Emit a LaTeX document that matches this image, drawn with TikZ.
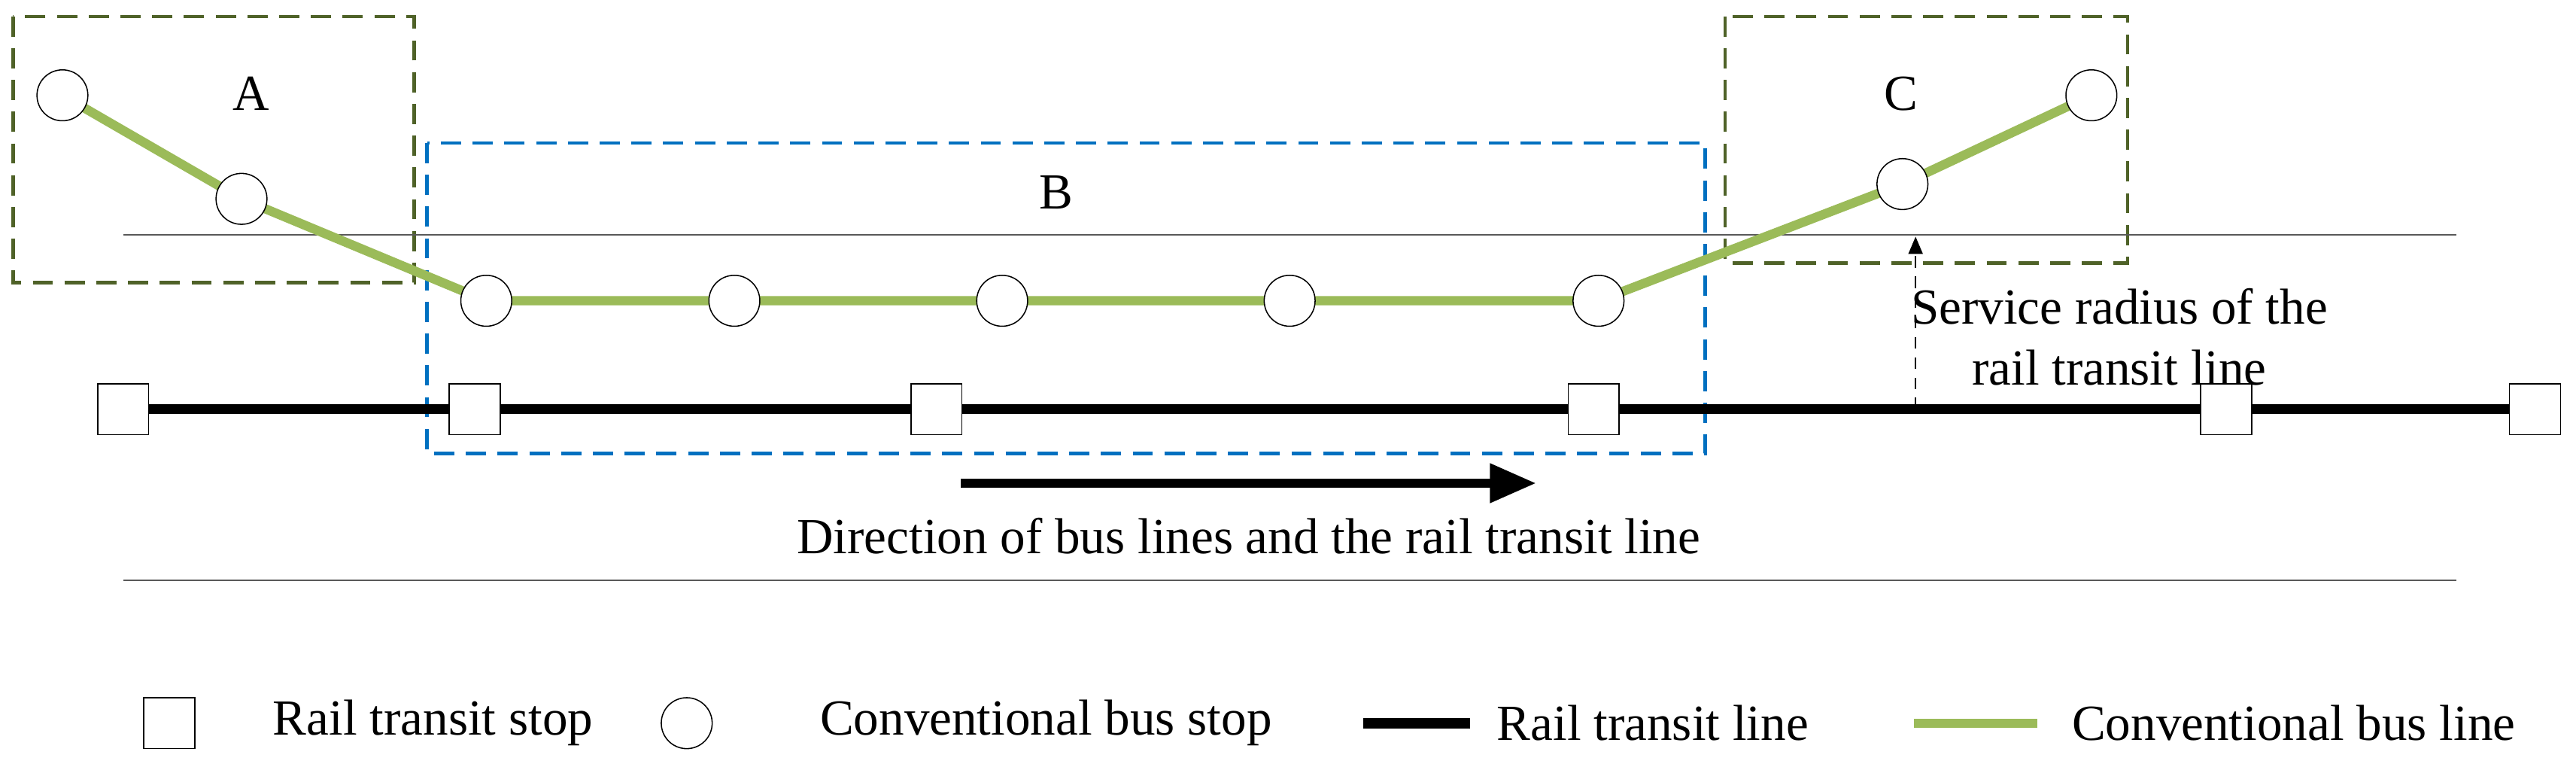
\documentclass[tikz,border=0pt]{standalone}
\usepackage{fontspec}
\setmainfont{Liberation Serif}
\usetikzlibrary{arrows.meta}
\definecolor{busgreen}{HTML}{9BBB59}
\definecolor{boxolive}{HTML}{4F6228}
\definecolor{boxblue}{HTML}{0070C0}
\begin{document}
\begin{tikzpicture}[x=0.02cm,y=-0.02cm,
 bs/.style={circle,draw,fill=white,minimum size=0.62cm,inner sep=0pt},
 rs/.style={rectangle,draw,fill=white,minimum size=0.62cm,inner sep=0pt},
 lbl/.style={font=\fontsize{17.5}{21}\selectfont},
 bline/.style={line width=3.2pt,color=busgreen},
 rline/.style={line width=3.5pt,black},
 boxg/.style={dash pattern=on 7pt off 4pt,line width=1.2pt,draw=boxolive},
 boxb/.style={dash pattern=on 7pt off 4pt,line width=1.2pt,draw=boxblue}]
\useasboundingbox (0,0) rectangle (1568,472);
\draw[boxg] (8,10) rectangle (252,172);
\draw[boxb] (260,87) rectangle (1038,276);
\draw[boxg] (1050,10) rectangle (1295,160);
\draw[gray!70!black] (75,143) -- (1495,143);
\draw[gray!70!black] (75,353) -- (1495,353);
\coordinate (rl) at (75,249); \coordinate (rr) at (1543,249);
\draw[rline] (rl) -- (rr);
\foreach \n/\x in {r1/75,r2/289,r3/570,r4/970,r5/1355,r6/1543} \node[rs] (\n) at (\x,249) {};
\coordinate (c1) at (38,58); \coordinate (c2) at (147,121); \coordinate (c3) at (296,183);
\coordinate (c4) at (447,183); \coordinate (c5) at (610,183); \coordinate (c6) at (785,183);
\coordinate (c7) at (973,183); \coordinate (c8) at (1158,112); \coordinate (c9) at (1273,58);
\draw[bline] (c1)--(c2)--(c3)--(c4)--(c5)--(c6)--(c7)--(c8)--(c9);
\foreach \i in {1,...,9} \node[bs] (b\i) at (c\i) {};
\node[lbl] (la) at (153,57) {A};
\node[lbl] (lb) at (643,117) {B};
\node[lbl] (lc) at (1157,57) {C};
\coordinate (s0) at (1166,249); \coordinate (s1) at (1166,144);
\draw[dash pattern=on 4pt off 3pt,-{Triangle[length=6pt,width=5pt]}] (s0) -- (s1);
\node[lbl,align=center] (srl) at (1290,205) {Service radius of the\\rail transit line};
\coordinate (d0) at (585,294); \coordinate (d1) at (935,294);
\draw[line width=3pt,-{Triangle[length=16pt,width=13pt]}] (d0) -- (d1);
\node[lbl] (dl) at (760,326) {Direction of bus lines and the rail transit line};
\node[rs] (lg1) at (103,440) {};
\node[lbl,anchor=west] (lt1) at (160,440) {Rail transit stop};
\node[bs] (lg2) at (418,440) {};
\node[lbl,anchor=west] (lt2) at (493,440) {Conventional bus stop};
\coordinate (l3a) at (830,440); \coordinate (l3b) at (895,440);
\draw[rline] (l3a) -- (l3b);
\node[lbl,anchor=west] (lt3) at (905,440) {Rail transit line};
\coordinate (l4a) at (1165,440); \coordinate (l4b) at (1240,440);
\draw[bline] (l4a) -- (l4b);
\node[lbl,anchor=west] (lt4) at (1255,440) {Conventional bus line};
\end{tikzpicture}
\end{document}
